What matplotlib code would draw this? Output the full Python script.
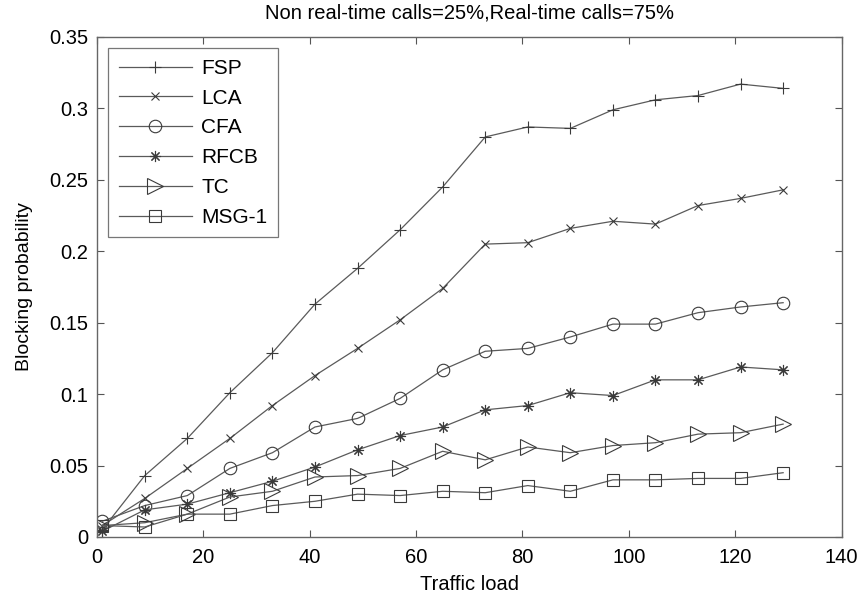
import numpy as np
from matplotlib import pyplot as plt

plt.rcParams['font.family'] = ['Liberation Sans', 'DejaVu Sans']

# traffic load points
load = [1, 9, 17, 25, 33, 41, 49, 57, 65, 73, 81, 89, 97, 105, 113, 121, 129]

fsp = [0.005, 0.043, 0.069, 0.101, 0.129, 0.163, 0.188, 0.215, 0.245, 0.280,
       0.287, 0.286, 0.299, 0.306, 0.309, 0.317, 0.314]
lca = [0.008, 0.027, 0.048, 0.069, 0.092, 0.113, 0.132, 0.152, 0.174, 0.205,
       0.206, 0.216, 0.221, 0.219, 0.232, 0.237, 0.243]
cfa = [0.011, 0.022, 0.029, 0.048, 0.059, 0.077, 0.083, 0.097, 0.117, 0.130,
       0.132, 0.140, 0.149, 0.149, 0.157, 0.161, 0.164]
rfcb = [0.004, 0.019, 0.023, 0.031, 0.039, 0.049, 0.061, 0.071, 0.077, 0.089,
        0.092, 0.101, 0.099, 0.110, 0.110, 0.119, 0.117]
tc = [0.008, 0.010, 0.016, 0.028, 0.032, 0.042, 0.043, 0.048, 0.060, 0.054,
      0.063, 0.059, 0.064, 0.066, 0.072, 0.073, 0.079]
msg1 = [0.008, 0.007, 0.016, 0.016, 0.022, 0.025, 0.030, 0.029, 0.032, 0.031,
        0.036, 0.032, 0.040, 0.040, 0.041, 0.041, 0.045]

# name, values, marker, marker size
series = [("FSP", fsp, '+', 9), ("LCA", lca, 'x', 5.5), ("CFA", cfa, 'o', 9),
          ("RFCB", rfcb, (8, 2, 0), 8), ("TC", tc, '>', 11), ("MSG-1", msg1, 's', 8)]

fig = plt.figure(figsize=(8.65, 5.96), dpi=100)
ax = fig.add_axes([0.112, 0.099, 0.861, 0.839])

col = '#5a5a5a'
for name, vals, mk, ms in series:
    ax.plot(load, vals, color=col, lw=0.9, marker=mk, markersize=ms,
            markerfacecolor='none', markeredgecolor='#3a3a3a', markeredgewidth=0.8,
            label=name)

ax.set_xlim(0, 140)
ax.set_ylim(0, 0.35)
ax.set_xticks(np.arange(0, 141, 20))
ax.set_yticks(np.arange(0, 0.351, 0.05))
ax.set_yticklabels(['0', '0.05', '0.1', '0.15', '0.2', '0.25', '0.3', '0.35'])
ax.tick_params(direction='in', labelsize=14.5, length=5, top=True, right=True,
               color='#555555', width=0.8)
ax.tick_params(axis='x', pad=8)
ax.tick_params(axis='y', pad=6)
for s in ax.spines.values():
    s.set_color('#666666')
    s.set_linewidth(1.0)

ax.set_xlabel("Traffic load", fontsize=14.5, labelpad=6)
ax.set_ylabel("Blocking probability", fontsize=14, labelpad=12)
ax.set_title("Non real-time calls=25%,Real-time calls=75%", fontsize=14.5, pad=13)

leg = ax.legend(loc='upper left', fontsize=15, handlelength=3.5, handletextpad=0.45,
                frameon=True, fancybox=False, edgecolor='#555555',
                borderaxespad=0.55, labelspacing=0.52, borderpad=0.5)
leg.get_frame().set_linewidth(0.9)

plt.savefig("out.png", dpi=100)
